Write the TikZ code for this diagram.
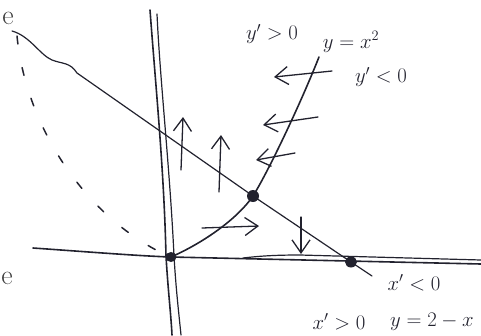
\documentclass[tikz,border=0pt]{standalone}
\usetikzlibrary{arrows.meta}
\definecolor{inkc}{HTML}{22222E}
\begin{document}
\begin{tikzpicture}[x=1pt,y=-1pt,
  ink/.style={draw=inkc, line width=1.6pt, line cap=round, line join=round},
  thinink/.style={draw=inkc, line width=1.2pt, line cap=round, line join=round},
  flow/.style={draw=inkc, line width=1.3pt, line cap=round,
    -{Straight Barb[length=13pt,width=18pt,line width=1.3pt]}},
  dashcurve/.style={draw=inkc, line width=1.5pt, dash pattern=on 8pt off 24pt, line cap=round},
  lbl/.style={text=inkc, inner sep=0pt, font=\fontsize{20.74}{24}\selectfont},
  page/.style={text=black!75, inner sep=0pt, font=\fontsize{28}{32}\selectfont}
]
\useasboundingbox (0,0) rectangle (481,335);
\clip (0,0) rectangle (481,335);

% key points
\coordinate (O) at (171,257);
\coordinate (P) at (253,196);
\coordinate (Q) at (351,262);

% stray page text at the left edge
\node[page] (e1) at (8,18) {e};
\node[page] (e2) at (7,278) {e};

% vertical axis (double stroke)
\draw[ink] (150,10) .. controls (156,90) and (164,170) .. (166,256) .. controls (168,290) and (171,315) .. (172,335);
\draw[thinink] (157,14) .. controls (160,80) and (170,170) .. (174,256) .. controls (176,290) and (179,315) .. (181,335);

% horizontal axis
\draw[ink] (33,248) .. controls (90,252) and (140,256) .. (O) -- (481,264);
\draw[thinink] (243,258) .. controls (260,256) and (275,255) .. (300,255) -- (481,260);

% line y = 2 - x
\draw[thinink] (12,31) .. controls (30,36) and (40,55) .. (52,60)
  .. controls (62,64) and (70,62) .. (77,73) -- (P) -- (Q) -- (372,276);

% curve y = x^2
\draw[ink] (O) .. controls (205,242) and (238,218) .. (P)
  .. controls (268,172) and (300,105) .. (319,57);

% dashed curve
\draw[dashcurve] (17,36) .. controls (25,120) and (80,215) .. (168,256);

% equilibrium dots
\fill[inkc] (O) ellipse (5.5pt and 5pt);
\fill[inkc] (P) ellipse (6pt and 6pt);
\fill[inkc] (Q) ellipse (6pt and 5.5pt);

% flow arrows
\draw[flow] (181,170) -- (183,117);
\draw[flow] (219,192) -- (221,135);
\draw[flow] (202,228) -- (259,226);
\draw[flow] (301,217) -- (301,254);
\draw[flow] (332,71) -- (274,77);
\draw[flow] (318,117) -- (263,125);
\draw[flow] (295,153) -- (256,160);

% labels
\node[lbl] (l1) at (272,34) {$y'>0$};
\node[lbl] (l2) at (351,42) {$y=x^2$};
\node[lbl] (l3) at (381,77) {$y'<0$};
\node[lbl] (l4) at (414,283) {$x'<0$};
\node[lbl] (l5) at (339,322) {$x'>0$};
\node[lbl, anchor=west] (l6) at (390,322) {$y=2-x$};
\end{tikzpicture}
\end{document}
